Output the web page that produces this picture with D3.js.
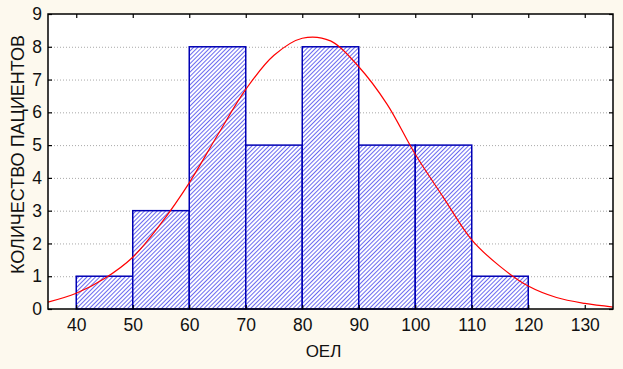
<!DOCTYPE html>
<html>
<head>
<meta charset="utf-8">
<script src="https://cdn.jsdelivr.net/npm/d3@7"></script>
<style>
  body { margin: 0; background: #fdf9ee; }
  svg { display: block; font-family: "Liberation Sans", Arial, sans-serif; }
</style>
</head>
<body>
<svg id="hist"></svg>
<script>
// histogram bins (ОЕЛ) and counts
const binStarts = [40, 50, 60, 70, 80, 90, 100, 110];
const binWidth = 10;
const counts = [1, 3, 8, 5, 8, 5, 5, 1];

// fitted normal curve
const curveX = [35, 40, 45, 50, 55, 60, 65, 70, 75, 80, 85, 90, 95, 100, 105, 110, 115, 120, 125, 130, 135];
const curveY = [0.21, 0.48, 0.93, 1.58, 2.61, 3.85, 5.30, 6.70, 7.74, 8.26, 8.18, 7.39, 6.25, 4.72, 3.40, 2.11, 1.30, 0.70, 0.35, 0.17, 0.06];

const xTicks = [40, 50, 60, 70, 80, 90, 100, 110, 120, 130];
const yTicks = [0, 1, 2, 3, 4, 5, 6, 7, 8, 9];

const dimensions = {
    width: 623,
    height: 369,
    margin: { top: 14, right: 10, bottom: 60, left: 48 }
};
const innerW = dimensions.width - dimensions.margin.left - dimensions.margin.right;
const innerH = dimensions.height - dimensions.margin.top - dimensions.margin.bottom;

const root = d3.select("#hist")
    .attr("width", dimensions.width)
    .attr("height", dimensions.height);

root.append("rect")
    .attr("width", dimensions.width)
    .attr("height", dimensions.height)
    .attr("fill", "#fdf9ee");

// hatch pattern for the bars
const pat = root.append("defs").append("pattern")
    .attr("id", "hatch")
    .attr("patternUnits", "userSpaceOnUse")
    .attr("width", 3)
    .attr("height", 3)
    .attr("patternTransform", "rotate(45)");
pat.append("rect").attr("width", 3).attr("height", 3).attr("fill", "#ffffff");
pat.append("line")
    .attr("x1", 0).attr("y1", 0).attr("x2", 0).attr("y2", 3)
    .attr("stroke", "#6a6af0")
    .attr("stroke-width", 2);

const svg = root.append("g")
    .attr("transform", `translate(${dimensions.margin.left},${dimensions.margin.top})`);

const xScale = d3.scaleLinear().domain([35, 135]).range([0, innerW]);
const yScale = d3.scaleLinear().domain([0, 9]).range([innerH, 0]);

svg.append("rect")
    .attr("width", innerW)
    .attr("height", innerH)
    .attr("fill", "#ffffff");

// grid
svg.append("g")
    .selectAll("line")
    .data(yTicks.filter(d => d > 0 && d < 9))
    .enter().append("line")
    .attr("x1", 0)
    .attr("x2", innerW)
    .attr("y1", d => yScale(d) + 0.5)
    .attr("y2", d => yScale(d) + 0.5)
    .attr("stroke", "#a8a8a8")
    .attr("stroke-dasharray", "1,2");

// bars
svg.append("g")
    .selectAll("rect")
    .data(binStarts)
    .enter().append("rect")
    .attr("x", d => xScale(d))
    .attr("y", (d, i) => yScale(counts[i]))
    .attr("width", d => xScale(d + binWidth) - xScale(d))
    .attr("height", (d, i) => yScale(0) - yScale(counts[i]))
    .attr("fill", "url(#hatch)")
    .attr("stroke", "#0000b4")
    .attr("stroke-width", 1.5);

// normal curve
const line = d3.line()
    .x((d, i) => xScale(d))
    .y((d, i) => yScale(curveY[i]))
    .curve(d3.curveCatmullRom);

svg.append("path")
    .datum(curveX)
    .attr("d", line)
    .attr("fill", "none")
    .attr("stroke", "#ff0000")
    .attr("stroke-width", 1.2);

// frame
svg.append("rect")
    .attr("width", innerW)
    .attr("height", innerH)
    .attr("fill", "none")
    .attr("stroke", "#000")
    .attr("stroke-width", 1.5);

// axes with inward ticks
const xAxis = svg.append("g")
    .attr("transform", `translate(0,${innerH})`)
    .call(d3.axisBottom(xScale).tickValues(xTicks).tickSize(-4).tickPadding(10));
const yAxis = svg.append("g")
    .call(d3.axisLeft(yScale).tickValues(yTicks).tickSize(-4).tickPadding(6));
svg.append("g")
    .call(d3.axisTop(xScale).tickValues(xTicks).tickSize(-4).tickFormat(""));
svg.append("g")
    .attr("transform", `translate(${innerW},0)`)
    .call(d3.axisRight(yScale).tickValues(yTicks).tickSize(-4).tickFormat(""));

svg.selectAll(".domain").remove();
svg.selectAll(".tick line").attr("stroke", "#000").attr("stroke-width", 1.2);
xAxis.selectAll("text").style("font-size", "17.5px").attr("fill", "#111");
yAxis.selectAll("text").style("font-size", "17.5px").attr("fill", "#111");

svg.append("text")
    .attr("x", innerW / 2 - 7)
    .attr("y", innerH + 48)
    .attr("text-anchor", "middle")
    .style("font-size", "17px")
    .attr("fill", "#111")
    .text("ОЕЛ");

svg.append("text")
    .attr("transform", "rotate(-90)")
    .attr("x", -innerH / 2 + 7)
    .attr("y", -dimensions.margin.left + 24)
    .attr("text-anchor", "middle")
    .style("font-size", "18px")
    .attr("fill", "#111")
    .text("КОЛИЧЕСТВО ПАЦИЕНТОВ");
</script>
</body>
</html>
